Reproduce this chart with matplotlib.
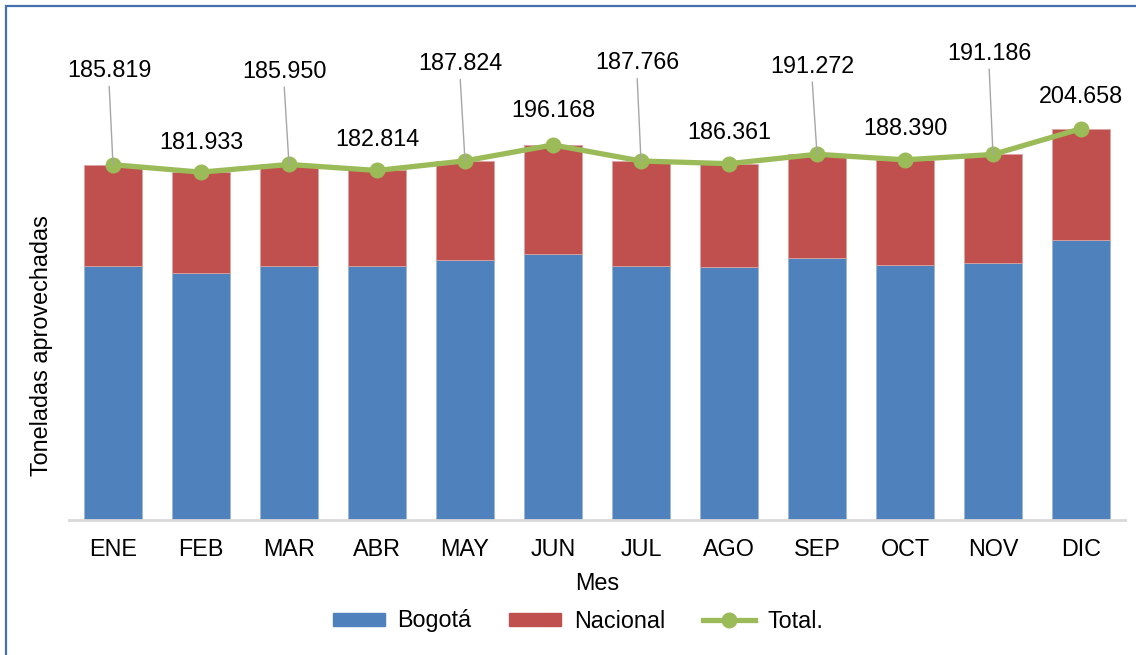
import matplotlib
matplotlib.use("Agg")
import matplotlib.pyplot as plt
from matplotlib.lines import Line2D
from matplotlib.patches import Patch, Rectangle
import numpy as np

plt.rcParams['font.family'] = ['Liberation Sans', 'DejaVu Sans']

meses = ["ENE", "FEB", "MAR", "ABR", "MAY", "JUN", "JUL", "AGO", "SEP", "OCT", "NOV", "DIC"]
total = [185819, 181933, 185950, 182814, 187824, 196168, 187766, 186361, 191272, 188390, 191186, 204658]
bogota = [132600, 129400, 132600, 133100, 136200, 139200, 133100, 132400, 136900, 133500, 134500, 146200]
nacional = [53200, 52500, 53350, 49700, 51600, 57000, 54700, 54000, 54400, 54900, 56700, 58500]

# label offsets (pixels) and whether a leader line is drawn
label_dx = [-4, 0, -5, 0, -5, 0, -4, 0, -5, 0, -4, 0]
label_dy = [94, 30, 93, 31, 97, 34, 98, 31, 88, 31, 101, 32]
leader = [True, False, True, False, True, False, True, False, True, False, True, False]

W, H = 1136, 655
fig = plt.figure(figsize=(W / 100, H / 100), dpi=100)
ax = fig.add_axes([69 / W, (H - 520) / H, 1056 / W, 478 / H])

x = np.arange(len(meses))
blue, red, green = "#4F81BD", "#C0504D", "#9BBB59"
fs = 16.8

ax.bar(x, bogota, width=0.67, color=blue, edgecolor="#9db7db", linewidth=0.6, zorder=2)
ax.bar(x, nacional, width=0.67, bottom=bogota, color=red, edgecolor="#dba3a1", linewidth=0.6, zorder=2)
ax.plot(x, total, color=green, lw=3.8, marker="o", ms=10.5, zorder=4, solid_capstyle="round")

for i, v in enumerate(total):
    txt = f"{v:,}".replace(",", ".")
    kw = {}
    if leader[i]:
        kw["arrowprops"] = dict(arrowstyle="-", color="#a6a6a6", lw=1.0, shrinkA=1, shrinkB=0,
                                relpos=(0.5, 0.0))
    ax.annotate(txt, xy=(i, v), xytext=(label_dx[i], label_dy[i]), textcoords="offset pixels",
                ha="center", va="center", fontsize=fs, color="black", zorder=5, **kw)

ax.set_xlim(-0.5, len(meses) - 0.5)
ax.set_ylim(0, 250000)
ax.set_yticks([])
ax.set_xticks(x)
ax.set_xticklabels(meses, fontsize=fs)
ax.tick_params(axis="x", length=0, pad=13)
for s in ["top", "right", "left"]:
    ax.spines[s].set_visible(False)
ax.spines["bottom"].set_color("#d9d9d9")
ax.spines["bottom"].set_linewidth(2)
ax.set_facecolor("none")

fig.text(597 / W, 1 - 584 / H, "Mes", ha="center", va="center", fontsize=fs)
fig.text(42 / W, 1 - 346 / H, "Toneladas aprovechadas", ha="center", va="center",
         rotation=90, fontsize=fs)

handles = [Patch(facecolor=blue, edgecolor=blue), Patch(facecolor=red, edgecolor=red),
           Line2D([0], [0], color=green, lw=3.8, marker="o", ms=10.5)]
fig.legend(handles, ["Bogotá", "Nacional", "Total."], loc="center", ncol=3,
           bbox_to_anchor=(578 / W, 1 - 621 / H), frameon=False, fontsize=fs,
           handlelength=2.23, handleheight=0.5, handletextpad=0.55, columnspacing=1.6)

fig.add_artist(Rectangle((6 / W, -0.1), 1.2, (H - 6) / H + 0.1, transform=fig.transFigure,
                         fill=False, edgecolor="#4470AE", linewidth=1.6, clip_on=False))

fig.savefig("out.png", dpi=100)
